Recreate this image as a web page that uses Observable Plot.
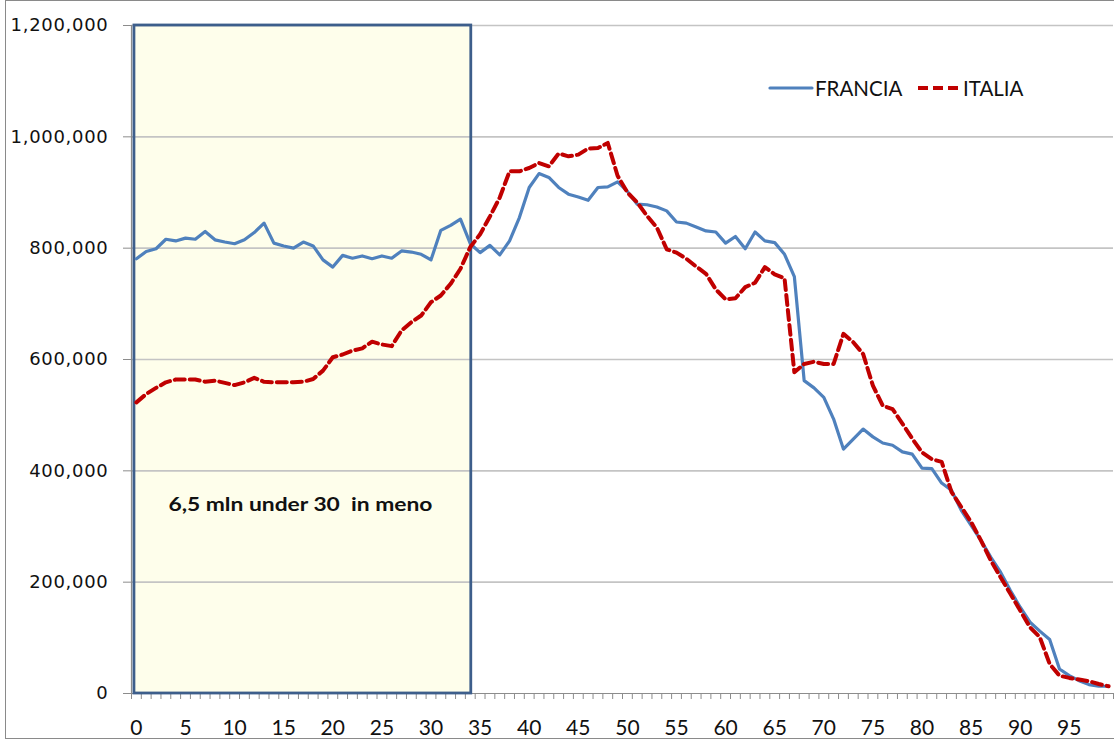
<!DOCTYPE html>
<html>
<head>
<meta charset="utf-8">
<script src="https://cdn.jsdelivr.net/npm/d3@7"></script>
<script src="https://cdn.jsdelivr.net/npm/@observablehq/plot@0.6"></script>
<style>
  body { margin: 0; background: #fff; }
  #wrap { position: relative; width: 1114px; height: 741px; overflow: hidden; background: #fff; }
  #border { position: absolute; left: 5px; top: 0px; width: 1112px; height: 737px;
            border-left: 1.5px solid #8a8a8a; border-top: 1.5px solid #8a8a8a; border-bottom: 1.5px solid #8a8a8a; pointer-events: none; }
  .lg-text { position: absolute; font-family: Lato, "Liberation Sans", sans-serif; font-size: 20.5px; color: #111; line-height: 1; white-space: nowrap; }
  .lg-sw { position: absolute; }
</style>
</head>
<body>
<div id="wrap">
  <div id="chart"></div>
  <div id="border"></div>
  <svg class="lg-sw" style="left:768px; top:80px" width="46" height="16">
    <line x1="2" y1="8" x2="44" y2="8" stroke="#4F81BD" stroke-width="3.2" stroke-linecap="round"/>
  </svg>
  <div class="lg-text" style="left:815px; top:78px">FRANCIA</div>
  <svg class="lg-sw" style="left:916px; top:80px" width="46" height="16">
    <line x1="2" y1="8" x2="44" y2="8" stroke="#C00000" stroke-width="4" stroke-dasharray="10,5"/>
  </svg>
  <div class="lg-text" style="left:963px; top:78px">ITALIA</div>
</div>
<script>
// Categories: age 0..99
const ages = d3.range(0, 100);

// FRANCIA population by single year of age
const francia = [
  781000, 794000, 799000, 816000, 813000, 818000, 816000, 830000, 815000, 811000,
  808000, 815000, 828000, 845000, 809000, 804000, 800000, 811000, 804000, 779000,
  766000, 787000, 782000, 786000, 781000, 786000, 782000, 795000, 793000, 789000,
  779000, 832000, 841000, 852000, 808000, 792000, 805000, 788000, 813000, 855000,
  909000, 934000, 927000, 909000, 897000, 892000, 886000, 909000, 910000, 919000,
  902000, 879000, 878000, 874000, 867000, 847000, 845000, 838000, 831000, 829000,
  809000, 821000, 799000, 829000, 813000, 810000, 789000, 749000, 562000, 549000,
  532000, 493000, 439000, 457000, 475000, 461000, 450000, 446000, 434000, 430000,
  405000, 404000, 378000, 365000, 329000, 302000, 275000, 245000, 218000, 185000,
  155000, 128000, 112000, 97000, 44000, 32000, 23000, 16000, 13000, 13000
];

// ITALIA population by single year of age
const italia = [
  523000, 538000, 549000, 559000, 564000, 564000, 564000, 560000, 562000, 558000,
  554000, 559000, 567000, 560000, 559000, 559000, 559000, 560000, 565000, 580000,
  604000, 609000, 616000, 620000, 632000, 627000, 624000, 652000, 667000, 679000,
  703000, 715000, 736000, 763000, 802000, 825000, 857000, 891000, 938000, 938000,
  944000, 953000, 947000, 970000, 965000, 968000, 979000, 980000, 989000, 930000,
  900000, 882000, 858000, 837000, 798000, 792000, 781000, 767000, 754000, 726000,
  708000, 710000, 730000, 738000, 766000, 753000, 746000, 577000, 592000, 596000,
  592000, 592000, 646000, 631000, 610000, 553000, 517000, 511000, 485000, 458000,
  433000, 421000, 416000, 362000, 335000, 308000, 275000, 239000, 209000, 179000,
  149000, 119000, 101000, 53000, 32000, 28000, 25000, 22000, 17000, 13000
];

// Axis ticks
const yTicks = [0, 200000, 400000, 600000, 800000, 1000000, 1200000];
const xLabels = [0, 5, 10, 15, 20, 25, 30, 35, 40, 45, 50, 55, 60, 65, 70, 75, 80, 85, 90, 95];
const xBoundaries = d3.range(-0.5, 100, 1);

// Highlighted box (ages under ~34) and its annotation
const boxAges = [-0.2, 34.1];
const annotation = "6,5 mln under 30  in meno";
const annotationAt = { age: 16.7, value: 338000 };

const rows = ages.map((a, i) => ({ age: a, francia: francia[i], italia: italia[i] }));

const grey = "#8c8c8c";

const chart = Plot.plot({
  width: 1114,
  height: 741,
  marginLeft: 131,
  marginRight: 1,
  marginTop: 25,
  marginBottom: 48,
  x: { domain: [-0.5, 99.5], axis: null, label: null },
  y: { domain: [0, 1200000], axis: null, label: null },
  style: { background: "transparent" },
  marks: [
    Plot.rect([boxAges], { x1: d => d[0], x2: d => d[1], y1: 0, y2: 1200000, fill: "#FEFEEB" }),
    Plot.ruleY(yTicks.filter(d => d > 0), { stroke: "#c4c4c4", strokeWidth: 1.6 }),
    Plot.ruleY([0], { stroke: grey, strokeWidth: 1.2 }),
    Plot.ruleX([-0.5], { stroke: grey, strokeWidth: 1.2 }),
    Plot.axisY(yTicks, {
      label: null, tickSize: 8, tickPadding: 15, stroke: grey, fill: "#111",
      tickFormat: d3.format(","), fontSize: 18, fontFamily: "DejaVu Sans"
    }),
    Plot.axisX(xBoundaries, { label: null, tickSize: 6, stroke: grey, tickFormat: () => "" }),
    Plot.axisX(xLabels, {
      label: null, tickSize: 0, tickPadding: 27, fill: "#111",
      fontSize: 21, fontFamily: "Lato"
    }),
    Plot.rect([boxAges], { x1: d => d[0], x2: d => d[1], y1: 0, y2: 1200000, fill: "none", stroke: "#3D5E8B", strokeWidth: 2.8 }),
    Plot.line(rows, { x: "age", y: "francia", stroke: "#4F81BD", strokeWidth: 3.2, curve: "linear" }),
    Plot.line(rows, { x: "age", y: "italia", stroke: "#C00000", strokeWidth: 4, strokeDasharray: "10,5", curve: "linear" }),
    Plot.text([annotation], {
      x: annotationAt.age, y: annotationAt.value, text: d => d,
      fontFamily: "Lato", fontWeight: "bold", fontSize: 19, fill: "#111",
      textAnchor: "middle", lineAnchor: "middle"
    })
  ]
});

document.getElementById("chart").appendChild(chart);

// Post-styling: wider y labels, preserve double space & stretch the annotation
d3.select(chart).selectAll("text")
  .filter(function () { return this.textContent === annotation; })
  .attr("xml:space", "preserve")
  .style("white-space", "pre")
  .attr("textLength", 264)
  .attr("lengthAdjust", "spacingAndGlyphs");

d3.select(chart).selectAll('g[aria-label="y-axis tick label"] text')
  .style("letter-spacing", "0.7px");
</script>
</body>
</html>
